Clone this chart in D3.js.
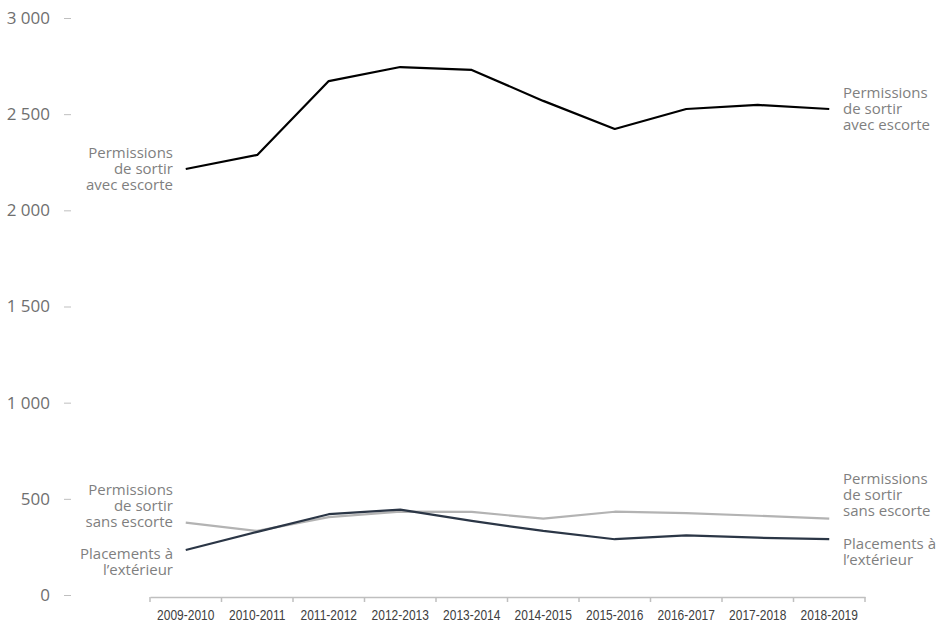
<!DOCTYPE html>
<html>
<head>
<meta charset="utf-8">
<script src="https://cdn.jsdelivr.net/npm/d3@7"></script>
<style>
  body { margin: 0; background: #fff; }
  svg { display: block; }
</style>
</head>
<body>
<div id="chart"></div>
<script>
// data
var years = ['2009-2010', '2010-2011', '2011-2012', '2012-2013', '2013-2014',
             '2014-2015', '2015-2016', '2016-2017', '2017-2018', '2018-2019'];
var avecEscorte = [2215, 2288, 2672, 2745, 2730, 2569, 2423, 2527, 2548, 2527];
var sansEscorte = [376, 333, 405, 433, 432, 397, 433, 426, 412, 397];
var placements  = [234, 328, 420, 444, 385, 333, 290, 310, 298, 290];
var yTicks = [0, 500, 1000, 1500, 2000, 2500, 3000];

var width = 943, height = 630;

var svg = d3.select('#chart')
  .append('svg')
    .attr('width', width)
    .attr('height', height);

var x = d3.scaleBand()
  .domain(years)
  .range([150, 865]);

var y = d3.scaleLinear()
  .domain([0, 3000])
  .range([595, 18]);

// y axis: labels + small dashes, no domain line
var yAxis = svg.append('g')
  .attr('transform', 'translate(72,0)')
  .call(d3.axisLeft(y).tickValues(yTicks).tickSize(8).tickPadding(14)
    .tickFormat(function(d) { return d3.format(',')(d).replace(',', '\u00a0'); }));
yAxis.select('.domain').remove();
yAxis.selectAll('line').attr('stroke', '#bfbfbf').attr('x1', -8).attr('x2', -1);
yAxis.selectAll('text')
  .attr('fill', '#6f6f6f')
  .style('font-family', '"Open Sans", sans-serif')
  .style('font-size', '17px');

// x axis with ticks between categories
var xAxis = svg.append('g')
  .attr('transform', 'translate(0,597)')
  .call(d3.axisBottom(x).tickSize(0).tickPadding(12));
xAxis.select('.domain').attr('stroke', '#bfbfbf').attr('stroke-width', 1.5);
xAxis.selectAll('text')
  .attr('fill', '#404040')
  .attr('transform', 'scale(0.8,1)')
  .style('font-family', '"Liberation Sans", sans-serif')
  .style('font-size', '15px');

var bounds = years.map(function(d) { return x(d); }).concat([x.range()[1]]);
xAxis.selectAll('line.sep')
  .data(bounds)
  .enter()
    .append('line')
      .attr('class', 'sep')
      .attr('x1', function(d) { return d; })
      .attr('x2', function(d) { return d; })
      .attr('y1', 0)
      .attr('y2', 5)
      .attr('stroke', '#bfbfbf')
      .attr('stroke-width', 1.5);

var series = [
  { name: 'avec', values: avecEscorte, color: '#000000',
    label: ['Permissions', 'de sortir', 'avec escorte'], dyL: -16, dyR: -16 },
  { name: 'sans', values: sansEscorte, color: '#b3b3b3',
    label: ['Permissions', 'de sortir', 'sans escorte'], dyL: -33, dyR: -40 },
  { name: 'plac', values: placements, color: '#2b3646',
    label: ['Placements à', 'l\u2019extérieur'], dyL: 4, dyR: 5 }
];

var line = d3.line()
  .x(function(d, i) { return x(years[i]) + x.bandwidth() / 2; })
  .y(function(d) { return y(d); });

svg.selectAll('path.series')
  .data(series)
  .enter()
    .append('path')
      .attr('class', 'series')
      .attr('d', function(d) { return line(d.values); })
      .attr('fill', 'none')
      .attr('stroke', function(d) { return d.color; })
      .attr('stroke-width', 2.2)
      .attr('stroke-linejoin', 'round');

var last = years.length - 1;

// labels at both ends of each line
series.forEach(function(s) {
  var left = svg.append('text')
    .attr('x', 173)
    .attr('y', y(s.values[0]) + s.dyL)
    .attr('text-anchor', 'end')
    .attr('fill', '#7f7f7f')
    .style('font-family', '"Open Sans", sans-serif')
    .style('font-size', '15px');
  left.selectAll('tspan')
    .data(s.label)
    .enter()
      .append('tspan')
        .attr('x', 173)
        .attr('dy', function(d, i) { return i === 0 ? '0.35em' : 16; })
        .text(function(d) { return d; });

  var right = svg.append('text')
    .attr('x', 843)
    .attr('y', y(s.values[last]) + s.dyR)
    .attr('fill', '#7f7f7f')
    .style('font-family', '"Open Sans", sans-serif')
    .style('font-size', '15px');
  right.selectAll('tspan')
    .data(s.label)
    .enter()
      .append('tspan')
        .attr('x', 843)
        .attr('dy', function(d, i) { return i === 0 ? '0.35em' : 16; })
        .text(function(d) { return d; });
});
</script>
</body>
</html>
